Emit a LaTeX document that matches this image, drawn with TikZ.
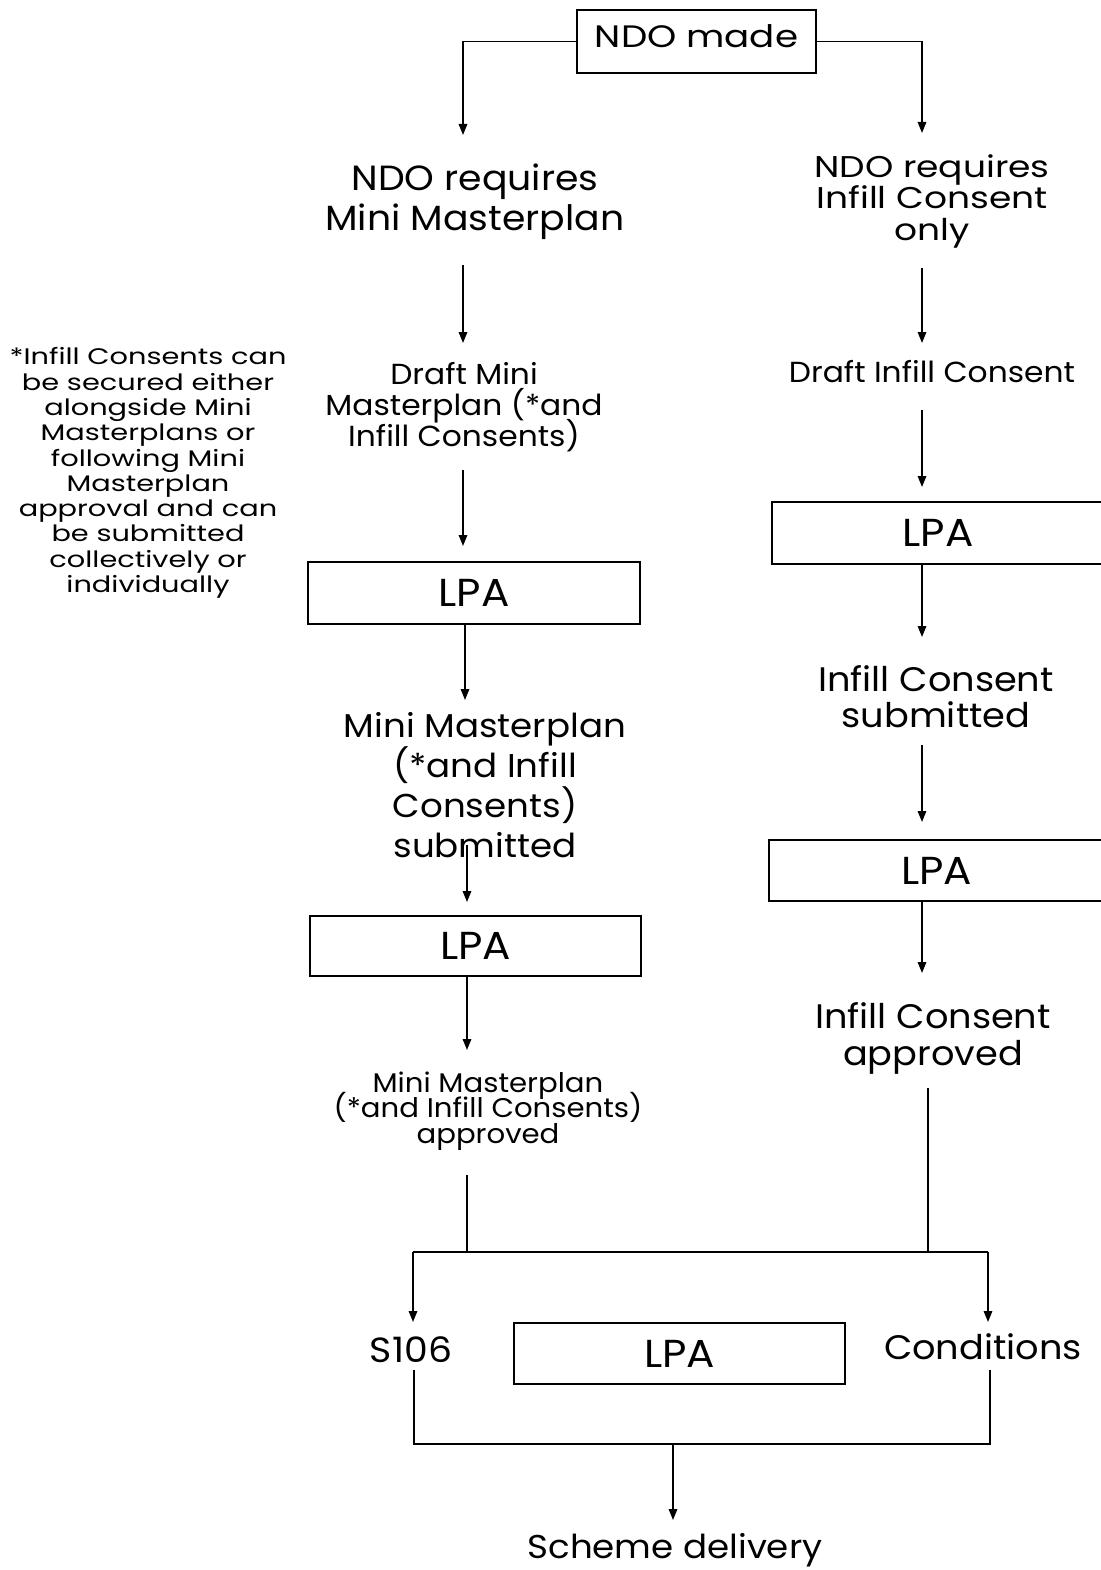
\documentclass[tikz,border=0pt]{standalone}
\usepackage{fontspec}
\setmainfont{Poppins}[FakeStretch=1.08]
\newfontfamily\widefont{Poppins}[FakeStretch=1.2]
\newfontfamily\notefont{Poppins}[FakeStretch=1.28]
\usetikzlibrary{arrows.meta}
\usetikzlibrary{calc}

\newcommand{\fsz}[2]{\fontsize{#1}{#2}\selectfont\lineskiplimit=-50pt}
\tikzset{
  box/.style={draw, line width=1.4pt, inner sep=0pt, font=\fsz{39}{39}},
  lbl/.style={align=center, inner sep=0pt},
  ln/.style={line width=1.6pt},
  arr/.style={line width=1.6pt, -{Triangle[length=11pt,width=8.5pt]}},
}

\begin{document}
\begin{tikzpicture}[x=1pt,y=-1pt]
    \useasboundingbox (0,0) rectangle (1100,1570);
    % top
    \node[box, minimum width=239pt, minimum height=63pt, text height=22pt, text depth=9pt, font=\widefont\fsz{31}{31}] (made) at (696.5,41.5) {NDO made};
    \coordinate (mpin) at (463,135);
    \coordinate (icin) at (922,133);
    \draw[arr] (made.west) -| (mpin);
    \draw[arr] (made.east) -| (icin);

    % left column
    \node[lbl, font=\fsz{35}{40}] (reqmp) at (475,202) {NDO requires\\Mini Masterplan};
    \node[lbl, font=\fsz{29}{31}] (draftmp) at (464,407) {Draft Mini\\Masterplan (*and\\Infill Consents)};
    \node[box, minimum width=332pt, minimum height=62pt] (lpaA) at (474,593) {LPA};
    \node[lbl, font=\fsz{33}{40}] (mpsub) at (485,785) {Mini Masterplan\\(*and Infill\\Consents)\\submitted};
    \node[box, minimum width=331pt, minimum height=60pt] (lpaB) at (475.5,946) {LPA};
    \node[lbl, font=\fsz{27}{25.5}] (mpapp) at (488,1111) {Mini Masterplan\\(*and Infill Consents)\\approved};

    % note
    \node[lbl, font=\notefont\fsz{22.5}{25.3}] (note) at (148,473) {*Infill Consents can\\be secured either\\alongside Mini\\Masterplans or\\following Mini\\Masterplan\\approval and can\\be submitted\\collectively or\\individually};

    % right column
    \node[lbl, font=\widefont\fsz{30}{31.5}] (reqic) at (932,201) {NDO requires\\Infill Consent\\only};
    \node[lbl, font=\fsz{29}{31}] (draftic) at (932,372) {Draft Infill Consent};
    \node[box, minimum width=332pt, minimum height=62pt] (lpaC) at (938,533) {LPA};
    \node[lbl, font=\fsz{34}{36}] (icsub) at (936,697) {Infill Consent\\submitted};
    \node[box, minimum width=335pt, minimum height=61pt] (lpaD) at (936.5,870.5) {LPA};
    \node[lbl, font=\fsz{34}{37}] (icapp) at (933,1038) {Infill Consent\\approved};

    % vertical arrows
    \foreach \nm/\x/\ya/\yb in {m1/463/265/343, m2/463/470/546, m3/465/624/700, m4/467/845/902, m5/467/977/1050,
                               i1/922/268/343, i2/922/410/487, i3/922/564/637, i4/922/745/822, i5/922/902/973} {
        \coordinate (\nm s) at (\x,\ya);
        \coordinate (\nm e) at (\x,\yb);
        \draw[arr] (\nm s) -- (\nm e);
    }

    % bottom
    \node[lbl, font=\fsz{35}{35}] (s106) at (411,1350) {S106};
    \node[box, minimum width=331pt, minimum height=61pt] (lpaE) at (679.5,1353.5) {LPA};
    \node[lbl, font=\fsz{34}{34}] (cond) at (983,1347) {Conditions};
    \node[lbl, font=\fsz{33}{33}] (deliv) at (675,1550) {Scheme delivery};

    \coordinate (mpout) at (467,1175);
    \coordinate (icout) at (928,1088);
    \coordinate (jl) at (413,1252);
    \coordinate (jr) at (988,1252);
    \draw[ln] (mpout) -- (mpout |- jl);
    \draw[ln] (icout) -- (icout |- jl);
    \draw[ln] (jl) -- (jr);
    \draw[arr] (jl) -- ++(0,70);
    \draw[arr] (jr) -- ++(0,70);

    \coordinate (kl) at (414,1444);
    \coordinate (kr) at (990,1444);
    \coordinate (km) at (673,1444);
    \draw[ln] (kl |- 0,1370) -- (kl) -- (kr) -- (kr |- 0,1370);
    \draw[arr] (km) -- ++(0,76);
\end{tikzpicture}
\end{document}
